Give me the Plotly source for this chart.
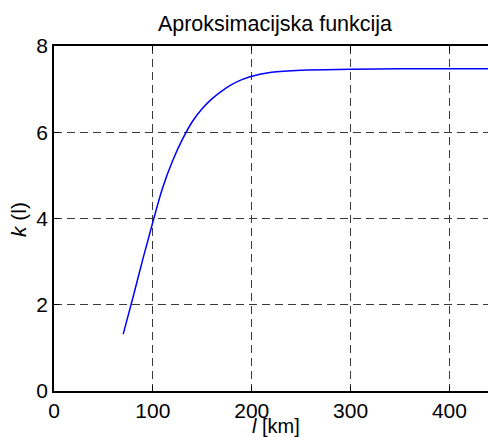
import plotly.graph_objects as go

# data
l_km = [70, 80, 90, 100, 110, 120, 130, 140, 150, 160, 170, 180, 190, 200, 220, 250, 300, 350, 400, 450]
k_l = [1.32, 2.18, 3.07, 3.92, 4.72, 5.34, 5.84, 6.25, 6.55, 6.78, 6.96, 7.11, 7.22, 7.30, 7.39, 7.44, 7.46, 7.47, 7.47, 7.47]
x_ticks = [0, 100, 200, 300, 400]
y_ticks = [0, 2, 4, 6, 8]

FONT = "Liberation Sans, Arial, sans-serif"

fig = go.Figure()
fig.add_trace(go.Scatter(x=l_km, y=k_l, mode="lines",
                         line=dict(color="#0000ff", width=1.5, shape="spline", smoothing=1.0),
                         showlegend=False, hoverinfo="skip"))

fig.update_layout(
    width=488, height=437,
    margin=dict(l=54, r=0, t=46, b=46, autoexpand=False),
    paper_bgcolor="white", plot_bgcolor="white",
    font=dict(family=FONT, size=21, color="black"),
    title=dict(text="Aproksimacijska funkcija", x=275/488, xanchor="center",
               y=1 - 23/437, yanchor="middle", font=dict(size=21.5, family=FONT, color="black")),
    xaxis=dict(range=[0, 439], tickvals=x_ticks, ticks="inside", ticklen=5, tickcolor="black",
               showline=True, linecolor="black", linewidth=1.5, mirror="allticks",
               showgrid=True, gridcolor="#3a3a3a", griddash="8px,5px", gridwidth=1,
               zeroline=False, tickfont=dict(size=21), automargin=False),
    yaxis=dict(range=[0, 8], tickvals=y_ticks, ticks="inside", ticklen=5, tickcolor="black",
               showline=True, linecolor="black", linewidth=1.5, mirror=False,
               showgrid=True, gridcolor="#3a3a3a", griddash="8px,5px", gridwidth=1,
               zeroline=False, tickfont=dict(size=21), automargin=False),
    annotations=[
        dict(text="<i>l</i> [km]", xref="paper", yref="paper", x=(276-54)/434, y=-35/345,
             xanchor="center", yanchor="middle", showarrow=False, font=dict(size=20)),
        dict(text="<i>k</i> (l)", xref="paper", yref="paper", x=-36/434, y=(391-220)/345,
             xanchor="center", yanchor="middle", showarrow=False, textangle=-90,
             font=dict(size=21)),
    ],
)

fig.write_html("out.html", config={"displayModeBar": False},
               post_script="document.body.style.margin='0';document.body.style.overflow='hidden';")
